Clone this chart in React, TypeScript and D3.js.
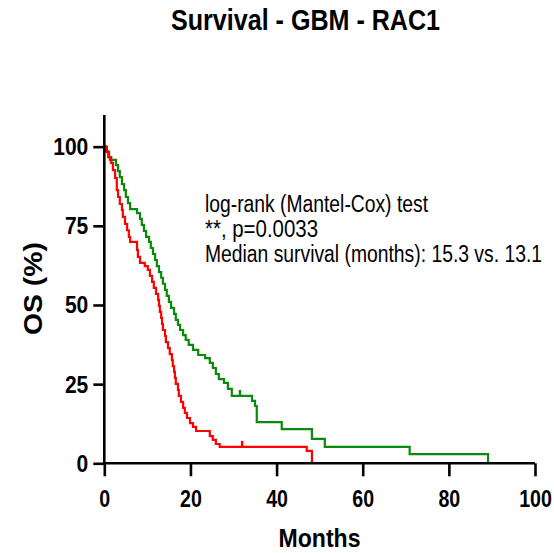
import React, { useEffect, useRef } from "react";
import * as d3 from "d3";

const redTimes = [0, 0.6, 1.1, 1.6, 2.0, 2.5, 2.9, 3.2, 3.6, 4.1, 4.3, 4.8, 5.3, 5.7, 6.0, 7.6, 7.8, 8.3, 9.4, 10.1, 10.6, 11.1, 11.5, 12.0, 12.5, 12.7, 12.9, 13.2, 13.4, 13.6, 14.1, 14.3, 14.8, 15.2, 15.7, 15.9, 16.2, 16.4, 16.6, 17.1, 17.3, 17.8, 18.3, 18.7, 19.2, 19.9, 20.6, 21.3, 24.5, 25.2, 25.9, 26.8, 47.0, 48.2];
const redSurv = [100, 98.3, 96.7, 94.9, 92.6, 90.1, 86.3, 84.1, 81.9, 80.0, 77.8, 75.6, 73.6, 71.5, 69.9, 67.4, 65.2, 63.3, 62.3, 61.1, 59.2, 57.3, 55.4, 53.5, 51.6, 49.7, 47.8, 45.9, 44.0, 42.1, 40.2, 38.3, 36.4, 34.5, 32.6, 30.7, 28.9, 27.0, 25.1, 23.2, 21.3, 19.4, 17.5, 15.9, 14.3, 12.7, 11.5, 10.2, 8.6, 7.4, 6.1, 5.2, 3.9, 0];
const greenTimes = [0, 0.4, 0.9, 1.3, 2.7, 3.2, 3.6, 4.1, 4.6, 5.0, 5.5, 6.0, 7.6, 8.3, 8.7, 9.2, 9.7, 10.4, 10.8, 11.3, 11.8, 12.2, 12.7, 13.2, 13.6, 14.1, 14.5, 15.0, 15.5, 16.2, 16.6, 17.1, 17.6, 18.3, 18.9, 19.6, 20.6, 21.8, 23.4, 24.5, 25.2, 25.9, 26.6, 27.8, 28.7, 29.6, 34.3, 35.0, 35.4, 41.2, 48.2, 51.2, 70.9, 89.1];
const greenSurv = [100, 98.6, 96.7, 95.8, 94.2, 92.3, 90.4, 88.2, 86.3, 84.1, 82.2, 80.3, 79.0, 77.2, 75.3, 73.4, 71.5, 69.9, 68.0, 66.1, 64.2, 62.3, 60.4, 58.6, 56.7, 54.8, 52.9, 51.0, 49.1, 47.2, 45.3, 43.7, 42.1, 40.5, 39.0, 37.4, 35.8, 34.2, 33.2, 31.7, 30.1, 28.2, 26.6, 25.4, 23.5, 21.3, 19.7, 18.1, 13.0, 10.8, 7.7, 5.2, 2.9, 0];
const redCensorTimes = [32.0];
const greenCensorTimes = [31.5];

const xTicks = [0, 20, 40, 60, 80, 100];
const yTicks = [0, 25, 50, 75, 100];
const titleText = "Survival - GBM - RAC1";
const xLabel = "Months";
const yLabel = "OS (%)";
const annotLines = ["log-rank (Mantel-Cox) test", "**, p=0.0033", "Median survival (months): 15.3 vs. 13.1"];

const FONT = "'Liberation Sans', Arial, Helvetica, sans-serif";

export default function App() {
  const ref = useRef<SVGSVGElement>(null);
  useEffect(() => {
    const svg = d3.select(ref.current);
    svg.selectAll("*").remove();
    const x = d3.scaleLinear().domain([0, 100]).range([104.3, 535]);
    const y = d3.scaleLinear().domain([0, 110]).range([463.3, 115.0]);

    // title
    svg.append("text").attr("x", 305.5).attr("y", 30).attr("text-anchor", "middle")
      .attr("font-family", FONT).attr("font-weight", "bold").attr("font-size", 29)
      .attr("textLength", 269).attr("lengthAdjust", "spacingAndGlyphs").text(titleText);

    // curves
    const line = d3.line<[number, number]>().x(d => x(d[0])).y(d => y(d[1])).curve(d3.curveStepAfter);
    const series = [
      { t: greenTimes, s: greenSurv, c: greenCensorTimes, color: "#0a8a0a" },
      { t: redTimes, s: redSurv, c: redCensorTimes, color: "#ff0000" },
    ];
    series.forEach(se => {
      const pts: [number, number][] = se.t.map((t, i) => [t, se.s[i]]);
      svg.append("path").attr("d", line(pts) as string).attr("fill", "none")
        .attr("stroke", se.color).attr("stroke-width", 2.2);
      se.c.forEach(ct => {
        let sv = 100;
        se.t.forEach((t, i) => { if (t <= ct) sv = se.s[i]; });
        svg.append("line").attr("x1", x(ct)).attr("x2", x(ct))
          .attr("y1", y(sv) - 6).attr("y2", y(sv) + 1)
          .attr("stroke", se.color).attr("stroke-width", 2.4);
      });
    });

    // axes
    const yAxis = d3.axisLeft(y).tickValues(yTicks).tickSize(11).tickPadding(4).tickFormat(d3.format("d") as any);
    const gy = svg.append("g").attr("transform", "translate(104.3,0)").call(yAxis);
    const xAxis = d3.axisBottom(x).tickValues(xTicks).tickSize(13).tickFormat(d3.format("d") as any);
    const gx = svg.append("g").attr("transform", "translate(0,463.3)").call(xAxis);
    [gx, gy].forEach(g => {
      g.select(".domain").attr("stroke", "#000").attr("stroke-width", 2.6);
      g.selectAll(".tick line").attr("stroke", "#000").attr("stroke-width", 2.6);
      g.selectAll(".tick text").attr("fill", "#000").attr("font-family", FONT).attr("font-weight", "bold")
        .attr("lengthAdjust", "spacingAndGlyphs");
    });
    gy.selectAll<SVGTextElement, number>(".tick text")
      .attr("font-size", 23).attr("x", -16).attr("dy", null).attr("y", 8)
      .attr("textLength", d => String(d).length * 11.7);
    gx.selectAll<SVGTextElement, number>(".tick text")
      .attr("font-size", 24).attr("dy", null).attr("y", 43.5)
      .attr("textLength", d => String(d).length * 10.9);
    gx.select(".domain").attr("d", `M${x(0)},0H${x(100)}`);
    gy.select(".domain").attr("d", `M0,${y(110)}V${y(0)}`);

    // axis labels
    svg.append("text").attr("x", 319.5).attr("y", 547).attr("text-anchor", "middle")
      .attr("font-family", FONT).attr("font-weight", "bold").attr("font-size", 25)
      .attr("textLength", 82).attr("lengthAdjust", "spacingAndGlyphs").text(xLabel);
    svg.append("text").attr("transform", "translate(42,288.5) rotate(-90)").attr("text-anchor", "middle")
      .attr("font-family", FONT).attr("font-weight", "bold").attr("font-size", 25)
      .attr("textLength", 93).attr("lengthAdjust", "spacingAndGlyphs").text(yLabel);

    // annotation
    const lens = [223, 113, 337];
    annotLines.forEach((t, i) => {
      svg.append("text").attr("x", 205).attr("y", 212 + i * 25)
        .attr("font-family", FONT).attr("font-size", 23).attr("fill", "#000")
        .attr("textLength", lens[i]).attr("lengthAdjust", "spacingAndGlyphs").text(t);
    });
  }, []);
  return (
    <svg ref={ref} width={554} height={553}
      style={{ position: "absolute", left: 0, top: 0, background: "#fff" }} />
  );
}
